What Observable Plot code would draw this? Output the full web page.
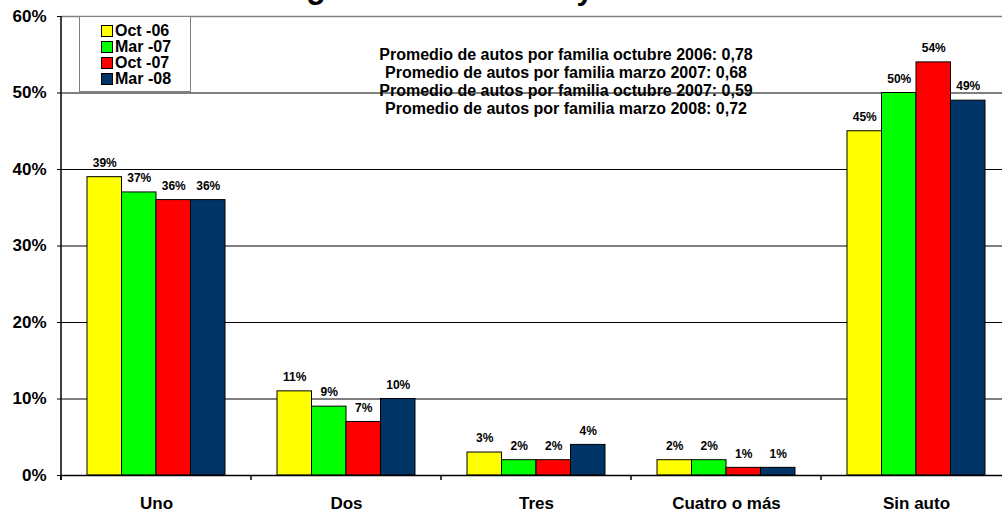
<!DOCTYPE html>
<html>
<head>
<meta charset="utf-8">
<script src="https://cdn.jsdelivr.net/npm/d3@7"></script>
<script src="https://cdn.jsdelivr.net/npm/@observablehq/plot@0.6"></script>
<style>
  html, body { margin: 0; padding: 0; background: #fff; overflow: hidden; }
  #wrap { position: relative; width: 1002px; height: 514px; overflow: hidden; font-family: "Liberation Sans", Arial, sans-serif; font-weight: bold; color: #000; }
  #title { position: absolute; left: 15px; width: 1050px; top: -25px; text-align: center; font-size: 30px; line-height: 30px; white-space: nowrap; }
  #legend { position: absolute; left: 79px; top: 16px; width: 112px; height: 76px; box-sizing: border-box; border: 1px solid #808080; background: #fff; padding: 6px 0 0 21px; }
  .lrow { display: flex; align-items: center; height: 16px; font-size: 16px; line-height: 16px; white-space: nowrap; }
  .sw { width: 10px; height: 10px; border: 1px solid #000; margin-right: 2px; flex: none; }
  #notes { position: absolute; left: 316px; width: 500px; top: 46px; text-align: center; font-size: 16px; line-height: 18px; white-space: nowrap; }
</style>
</head>
<body>
<div id="wrap"></div>
<script>
const title = "¿Cuántos autos hay en su casa?";
const categories = ["Uno", "Dos", "Tres", "Cuatro o más", "Sin auto"];
const series = ["Oct -06", "Mar -07", "Oct -07", "Mar -08"];
const colors = ["#FFFF00", "#00FF00", "#FF0000", "#003366"];
const oct06 = [39, 11, 3, 2, 45];
const mar07 = [37, 9, 2, 2, 50];
const oct07 = [36, 7, 2, 1, 54];
const mar08 = [36, 10, 4, 1, 49];
const yTicks = [0, 10, 20, 30, 40, 50, 60];
const notes = [
  "Promedio de autos por familia octubre 2006: 0,78",
  "Promedio de autos por familia marzo 2007: 0,68",
  "Promedio de autos por familia octubre 2007: 0,59",
  "Promedio de autos por familia marzo 2008: 0,72"
];

const seriesValues = [oct06, mar07, oct07, mar08];
const rows = categories.flatMap((c, i) =>
  series.map((s, j) => ({category: c, series: s, value: seriesValues[j][i]}))
);

const chart = Plot.plot({
  width: 1011,
  height: 514,
  marginLeft: 61,
  marginRight: 0,
  marginTop: 16,
  marginBottom: 39,
  style: {
    fontFamily: '"Liberation Sans", Arial, sans-serif',
    fontWeight: "bold",
    fontSize: "17px",
    background: "transparent",
    maxWidth: "none",
    overflow: "visible"
  },
  fx: {domain: categories, padding: 0, round: false},
  x: {domain: series, paddingInner: 0, paddingOuter: 0.754, round: false, axis: null},
  y: {domain: [0, 60]},
  color: {domain: series, range: colors},
  marks: [
    Plot.ruleY(yTicks.filter(t => t > 0 && t < 60), {stroke: "#000", strokeWidth: 1}),
    Plot.ruleY(yTicks.filter(t => t === 60), {stroke: "#808080", strokeWidth: 1.5}),
    Plot.barY(rows, {fx: "category", x: "series", y: "value", fill: "series", stroke: "#000", strokeWidth: 1}),
    Plot.ruleY([0], {stroke: "#000", strokeWidth: 1.5}),
    Plot.text(rows, {fx: "category", x: "series", y: "value", text: d => d.value + "%", dy: -14, fontSize: 12, fontWeight: "bold", fill: "#000"}),
    Plot.axisY({ticks: yTicks, tickFormat: d => d + "%", tickSize: 4, tickPadding: 11, fontSize: 17, label: null, stroke: "#000"}),
    Plot.axisFx({anchor: "bottom", tickSize: 0, tickPadding: 21, fontSize: 17, label: null})
  ]
});

// Axis line and band-boundary ticks from the library's own scales
const fxS = chart.scale("fx");
const yS = chart.scale("y");
const y0 = yS.apply(0), yTop = yS.apply(60);
const svg = d3.select(chart);
const g = svg.append("g").attr("stroke", "#000").attr("stroke-width", 1.5);
g.append("line").attr("x1", fxS.apply(categories[0])).attr("x2", fxS.apply(categories[0]))
  .attr("y1", yTop).attr("y2", y0 + 5);
categories.forEach(c => {
  const x = fxS.apply(c);
  g.append("line").attr("x1", x).attr("x2", x).attr("y1", y0).attr("y2", y0 + 5);
});

const wrap = document.getElementById("wrap");
wrap.appendChild(chart);

const t = document.createElement("div");
t.id = "title"; t.textContent = title;
wrap.appendChild(t);

const legend = document.createElement("div");
legend.id = "legend";
series.forEach((s, i) => {
  const row = document.createElement("div");
  row.className = "lrow";
  const sw = document.createElement("span");
  sw.className = "sw"; sw.style.background = colors[i];
  const lab = document.createElement("span");
  lab.textContent = s;
  row.appendChild(sw); row.appendChild(lab);
  legend.appendChild(row);
});
wrap.appendChild(legend);

const nt = document.createElement("div");
nt.id = "notes";
notes.forEach(n => { const d = document.createElement("div"); d.textContent = n; nt.appendChild(d); });
wrap.appendChild(nt);
</script>
</body>
</html>
